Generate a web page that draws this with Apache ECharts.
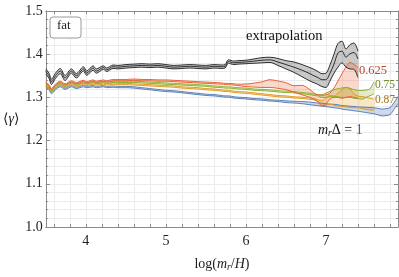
<!DOCTYPE html>
<html><head><meta charset="utf-8">
<script src="https://cdn.jsdelivr.net/npm/echarts@6/dist/echarts.min.js"></script>
<style>html,body{margin:0;padding:0;background:#fff}#c{width:399px;height:277px}</style>
</head><body><div id="c"></div>
<script>
// x positions: log(m_r/H)
const xs = [3.5,3.54,3.57,3.62,3.68,3.74,3.82,3.88,3.97,4.01,4.09,4.13,4.22,4.26,4.34,4.4,4.5,4.6,4.7,4.8,4.9,5.0,5.1,5.2,5.3,5.4,5.5,5.6,5.7,5.74,5.78,5.85,5.9,6.0,6.1,6.2,6.3,6.4,6.5,6.6,6.7,6.8,6.85,6.9,6.95,7.0,7.05,7.1,7.15,7.2,7.25,7.3,7.35,7.4,7.45,7.5,7.55,7.6,7.65,7.7,7.75,7.8,7.85,7.9];
const xTickValues = [3.6,3.8,4.0,4.2,4.4,4.6,4.8,5.0,5.2,5.4,5.6,5.8,6.0,6.2,6.4,6.6,6.8,7.0,7.2,7.4,7.6,7.8];
const xLabelValues = [4,5,6,7];

// extrapolation (black band)
const extTop = [1.366,1.356,1.342,1.356,1.367,1.351,1.366,1.355,1.371,1.361,1.373,1.366,1.373,1.368,1.375,1.374,1.376,1.377,1.378,1.377,1.378,1.376,1.374,1.375,1.376,1.375,1.374,1.376,1.375,1.376,1.387,1.384,1.385,1.386,1.389,1.392,1.393,1.390,1.385,1.382,1.376,1.369,1.365,1.360,1.355,1.356,1.375,1.400,1.425,1.430,1.412,1.422,1.426,1.407];
const extMid = [1.360,1.350,1.336,1.350,1.361,1.345,1.361,1.350,1.366,1.356,1.368,1.361,1.369,1.364,1.371,1.370,1.372,1.373,1.374,1.373,1.374,1.372,1.370,1.371,1.372,1.371,1.370,1.372,1.371,1.372,1.383,1.380,1.381,1.382,1.384,1.386,1.387,1.382,1.376,1.370,1.363,1.355,1.350,1.346,1.341,1.341,1.356,1.377,1.403,1.407,1.393,1.401,1.404,1.389];
const extBot = [1.354,1.344,1.330,1.344,1.355,1.339,1.356,1.345,1.361,1.351,1.363,1.356,1.365,1.360,1.367,1.366,1.368,1.369,1.370,1.369,1.370,1.368,1.366,1.367,1.368,1.367,1.366,1.368,1.367,1.368,1.379,1.376,1.377,1.378,1.379,1.380,1.381,1.374,1.366,1.358,1.348,1.338,1.334,1.330,1.325,1.323,1.338,1.356,1.370,1.380,1.370,1.366,1.365,1.346];

// m_r Delta = 0.625 (red)
const redHi = [1.3355,1.3295,1.3205,1.3305,1.3375,1.3315,1.3385,1.3345,1.3395,1.3365,1.3405,1.3375,1.3405,1.3385,1.3415,1.3415,1.3415,1.3425,1.3415,1.3415,1.3405,1.3405,1.3395,1.3385,1.3375,1.3365,1.3355,1.3345,1.3335,1.3325,1.3325,1.3315,1.3305,1.331,1.333,1.336,1.341,1.338,1.334,1.327,1.328,1.318,1.310,1.306,1.305,1.306,1.310,1.322,1.338,1.355,1.370,1.381,1.376,1.369];
const redLo = [1.3325,1.3265,1.3175,1.3275,1.3345,1.3285,1.3355,1.3315,1.3365,1.3335,1.3375,1.3345,1.3375,1.3355,1.3385,1.3385,1.3385,1.3395,1.3385,1.3385,1.3375,1.3375,1.3365,1.3355,1.3345,1.3335,1.3325,1.3315,1.3305,1.3295,1.3295,1.3285,1.3275,1.325,1.324,1.323,1.323,1.321,1.318,1.312,1.306,1.300,1.295,1.290,1.280,1.285,1.296,1.300,1.300,1.298,1.300,1.302,1.300,1.298];

// m_r Delta = 0.75 (green)
const greenHi = [1.3325,1.3265,1.3175,1.3275,1.3345,1.3285,1.3355,1.3315,1.3365,1.3335,1.3375,1.3345,1.3375,1.3355,1.3375,1.3375,1.3375,1.3375,1.3365,1.3355,1.3345,1.3335,1.3325,1.3315,1.3305,1.3295,1.3285,1.3265,1.3255,1.3245,1.3245,1.3235,1.3225,1.3215,1.3195,1.3185,1.3175,1.3155,1.3145,1.3135,1.3115,1.3095,1.3075,1.3065,1.306,1.310,1.314,1.318,1.320,1.322,1.323,1.321,1.318,1.316,1.316,1.317,1.320,1.336];
const greenLo = [1.3295,1.3235,1.3145,1.3245,1.3315,1.3255,1.3325,1.3285,1.3335,1.3305,1.3345,1.3315,1.3345,1.3325,1.3345,1.3345,1.3345,1.3345,1.3335,1.3325,1.3315,1.3305,1.3295,1.3285,1.3275,1.3265,1.3255,1.3235,1.3225,1.3215,1.3215,1.3205,1.3195,1.3185,1.3165,1.3155,1.3145,1.3125,1.3115,1.3105,1.3085,1.3065,1.3045,1.3035,1.300,1.300,1.302,1.303,1.301,1.300,1.300,1.300,1.298,1.297,1.296,1.300,1.304,1.308];

// m_r Delta = 0.87 (orange)
const orangeHi = [1.3295,1.3235,1.3145,1.3245,1.3315,1.3255,1.3325,1.3285,1.3325,1.3305,1.3335,1.3315,1.3335,1.3315,1.3335,1.3325,1.3325,1.3315,1.3305,1.3295,1.3285,1.3275,1.3265,1.3245,1.3235,1.3225,1.3205,1.3195,1.3175,1.3165,1.3165,1.3145,1.3135,1.3125,1.3105,1.3085,1.3065,1.3045,1.3035,1.3015,1.3005,1.2985,1.2975,1.2945,1.292,1.300,1.305,1.302,1.310,1.318,1.323,1.320,1.308,1.303,1.302,1.300,1.298,1.296];
const orangeLo = [1.3265,1.3205,1.3115,1.3215,1.3285,1.3225,1.3295,1.3255,1.3295,1.3275,1.3305,1.3285,1.3305,1.3285,1.3305,1.3295,1.3295,1.3285,1.3275,1.3265,1.3255,1.3245,1.3235,1.3215,1.3205,1.3195,1.3175,1.3165,1.3145,1.3135,1.3135,1.3115,1.3105,1.3095,1.3075,1.3055,1.3035,1.3015,1.3005,1.2985,1.2975,1.2955,1.2945,1.2915,1.280,1.282,1.284,1.282,1.280,1.279,1.278,1.277,1.276,1.276,1.274,1.272,1.271,1.270];

// m_r Delta = 1 (blue)
const blueHi = [1.3265,1.3205,1.3115,1.3205,1.3275,1.3215,1.3275,1.3235,1.3275,1.3255,1.3275,1.3255,1.3275,1.3255,1.3265,1.3255,1.3255,1.3245,1.3225,1.3205,1.3185,1.3165,1.3155,1.3135,1.3115,1.3095,1.3075,1.3065,1.3045,1.3035,1.3035,1.3015,1.3005,1.2995,1.2975,1.2965,1.2945,1.2935,1.292,1.291,1.2905,1.289,1.288,1.287,1.2865,1.2855,1.2845,1.284,1.283,1.281,1.2805,1.2795,1.279,1.278,1.2775,1.277,1.2765,1.276,1.2745,1.273,1.274,1.276,1.288,1.302];
const blueLo = [1.3235,1.3175,1.3085,1.3175,1.3245,1.3185,1.3245,1.3205,1.3245,1.3225,1.3245,1.3225,1.3245,1.3225,1.3235,1.3225,1.3225,1.3215,1.3195,1.3175,1.3155,1.3135,1.3125,1.3105,1.3085,1.3065,1.3045,1.3035,1.3015,1.3005,1.3005,1.2985,1.2975,1.2965,1.2945,1.2935,1.2915,1.2905,1.288,1.287,1.2855,1.283,1.282,1.281,1.2795,1.2785,1.2775,1.276,1.275,1.273,1.2715,1.2705,1.269,1.268,1.2665,1.265,1.2635,1.262,1.2595,1.257,1.258,1.260,1.272,1.286];

const FONT = "'Liberation Serif', 'DejaVu Serif', serif";
const C = {blue:'#5E81B5', orange:'#E19C24', green:'#8FB032', red:'#EB6235', black:'#2e2e2e'};

function pairs(arr){ return arr.map((v,i)=>[xs[i], v]); }
function band(lo, hi, fill){
  return {type:'custom', silent:true, z:1, clip:true, data:[[xs[0], lo[0]]], encode:{x:0,y:1},
    renderItem:(params, api)=>{
      const pts=[];
      for(let i=0;i<hi.length;i++) pts.push(api.coord([xs[i], hi[i]]));
      for(let i=lo.length-1;i>=0;i--) pts.push(api.coord([xs[i], lo[i]]));
      return {type:'polygon', shape:{points:pts, smooth:0.3}, style:{fill:fill}};
    }};
}
function line(arr, color, extra){
  return Object.assign({type:'line', data:pairs(arr), symbol:'none', showSymbol:false, smooth:0.3, silent:true, z:3,
    lineStyle:{color:color, width:1}}, extra||{});
}
function endLab(text, color, off, size){
  return {endLabel:{show:true, formatter:text, color:color, fontFamily:FONT, fontSize:size, distance:1, offset:off}};
}

const chart = echarts.init(document.getElementById('c'), null, {renderer:'canvas'});
const frame = '#8a8a8a';
const gridC = '#ebebeb';
chart.setOption({
  animation:false,
  backgroundColor:'#fff',
  grid:{left:44, right:1, top:11, bottom:48},
  xAxis:[{
    type:'value', min:3.5, max:7.9, position:'bottom',
    axisLine:{show:true, lineStyle:{color:frame, width:1}},
    axisTick:{show:true, inside:true, length:3, customValues:xTickValues, lineStyle:{color:frame}},
    axisLabel:{customValues:xLabelValues, color:'#222', fontFamily:FONT, fontSize:14, margin:7, formatter:v=>String(v)},
    splitLine:{show:true, lineStyle:{color:gridC, width:1}},
    name:'{t|log(}{i|m}{s|r}{t|/}{i|H}{t|)}', nameLocation:'middle', nameGap:29,
    nameTextStyle:{color:'#222', fontFamily:FONT, fontSize:14, rich:{
      t:{fontFamily:FONT, fontSize:14, color:'#222', lineHeight:16},
      i:{fontFamily:FONT, fontSize:14, fontStyle:'italic', color:'#222', lineHeight:16},
      s:{fontFamily:FONT, fontSize:9.5, fontStyle:'italic', color:'#222', lineHeight:9, verticalAlign:'bottom'}
    }}
  },{
    type:'value', min:3.5, max:7.9, position:'top',
    axisLine:{show:true, lineStyle:{color:frame, width:1}},
    axisTick:{show:true, inside:true, length:3, customValues:xTickValues, lineStyle:{color:frame}},
    axisLabel:{show:false}, splitLine:{show:false}
  }],
  yAxis:[{
    type:'value', min:1.0, max:1.5, interval:0.1, position:'left',
    axisLine:{show:true, lineStyle:{color:frame, width:1}},
    axisTick:{show:true, inside:true, length:4, lineStyle:{color:frame}},
    minorTick:{show:true, splitNumber:5, length:2, lineStyle:{color:frame}},
    axisLabel:{color:'#222', fontFamily:FONT, fontSize:14, margin:3, formatter:v=>v.toFixed(1)},
    splitLine:{show:true, lineStyle:{color:gridC, width:1}},
    minorSplitLine:{show:true, lineStyle:{color:gridC, width:1}},
    name:'{a|⟨}{g|γ}{a|⟩}', nameLocation:'middle', nameRotate:0, nameGap:26,
    nameTextStyle:{color:'#222', fontFamily:FONT, fontSize:14, rich:{
      a:{fontFamily:FONT, fontSize:14, color:'#222'},
      g:{fontFamily:FONT, fontSize:14, fontStyle:'italic', color:'#222'}
    }}
  },{
    type:'value', min:1.0, max:1.5, interval:0.1, position:'right',
    axisLine:{show:true, lineStyle:{color:frame, width:1}},
    axisTick:{show:true, inside:true, length:4, lineStyle:{color:frame}},
    minorTick:{show:true, splitNumber:5, length:2, lineStyle:{color:frame}},
    axisLabel:{show:false}, splitLine:{show:false}
  }],
  series:[
    band(extBot, extTop, 'rgba(60,60,60,0.28)'),
    band(redLo, redHi, 'rgba(235,98,53,0.25)'),
    band(greenLo, greenHi, 'rgba(143,176,50,0.25)'),
    band(orangeLo, orangeHi, 'rgba(225,156,36,0.25)'),
    band(blueLo, blueHi, 'rgba(94,129,181,0.3)'),
    line(blueLo, C.blue), line(blueHi, C.blue),
    line(orangeLo, C.orange), line(orangeHi, C.orange, endLab('0.87', '#A5741C', [0,1], 11.5)),
    line(greenLo, C.green), line(greenHi, C.green, endLab('0.75', '#6E8A24', [0,3], 11.5)),
    line(redLo, C.red), line(redHi, C.red, endLab('0.625', '#B4472A', [0,3], 12.5)),
    line(extBot, C.black), line(extMid, C.black), line(extTop, C.black)
  ],
  graphic:[
    {type:'rect', left:49.5, top:16.5, shape:{width:31, height:21, r:3}, style:{fill:'#fff', stroke:'#9a9a9a', lineWidth:1}, z:10},
    {type:'text', left:57, top:19, style:{text:'fat', fontFamily:FONT, fontSize:13, fill:'#222'}, z:11},
    {type:'text', left:246, top:29, style:{text:'extrapolation', fontFamily:FONT, fontSize:14.5, fill:'#111'}, z:11},
    {type:'text', left:318, top:123, z:11, style:{text:'{i|m}{s|r}{t|Δ = }{b|1}', fontFamily:FONT, fontSize:14, fill:'#111', rich:{
      i:{fontFamily:FONT, fontSize:14, fontStyle:'italic', fill:'#111', lineHeight:16},
      s:{fontFamily:FONT, fontSize:9.5, fontStyle:'italic', fill:'#111', lineHeight:9, verticalAlign:'bottom'},
      t:{fontFamily:FONT, fontSize:14, fill:'#111', lineHeight:16},
      b:{fontFamily:FONT, fontSize:14, fill:'#46638F', lineHeight:16}
    }}}
  ]
});
</script></body></html>
